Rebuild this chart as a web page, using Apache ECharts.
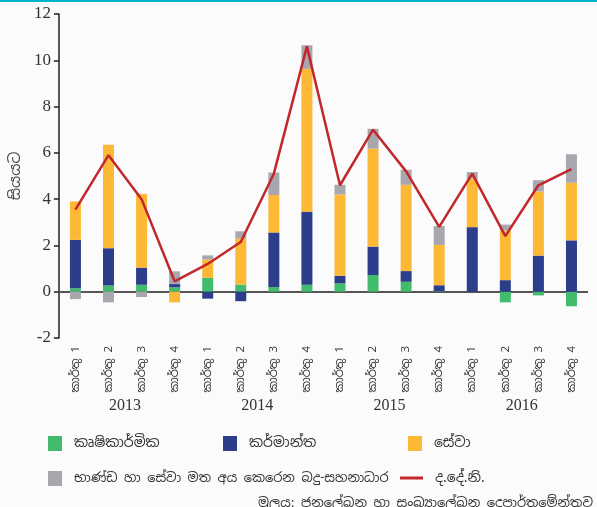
<!DOCTYPE html>
<html>
<head>
<meta charset="utf-8">
<script src="https://cdn.jsdelivr.net/npm/echarts@6/dist/echarts.min.js"></script>
<style>
  html, body { margin: 0; padding: 0; background: #fafbfa; }
  #chart { width: 597px; height: 507px; }
</style>
</head>
<body>
<div id="chart"></div>
<script>
// කාර්තු සහ වසර
const quarters = ['කාර්තු 1', 'කාර්තු 2', 'කාර්තු 3', 'කාර්තු 4',
  'කාර්තු 1', 'කාර්තු 2', 'කාර්තු 3', 'කාර්තු 4',
  'කාර්තු 1', 'කාර්තු 2', 'කාර්තු 3', 'කාර්තු 4',
  'කාර්තු 1', 'කාර්තු 2', 'කාර්තු 3', 'කාර්තු 4']
const years = ['2013', '2014', '2015', '2016']

// දායකත්වය (සියයට)
const agriculture = [0.15, 0.27, 0.30, 0.19, 0.60, 0.31, 0.20, 0.30, 0.36, 0.72, 0.43, 0.02, 0.00, -0.46, -0.16, -0.63]
const industry = [2.09, 1.61, 0.74, 0.14, -0.30, -0.41, 2.36, 3.16, 0.33, 1.23, 0.46, 0.26, 2.79, 0.50, 1.56, 2.22]
const services = [1.66, 4.47, 3.19, -0.46, 0.79, 1.99, 1.62, 6.17, 3.51, 4.23, 3.73, 1.74, 2.09, 2.14, 2.77, 2.49]
const taxes = [-0.32, -0.46, -0.23, 0.55, 0.18, 0.31, 0.97, 1.02, 0.42, 0.86, 0.65, 0.82, 0.29, 0.26, 0.49, 1.23]
const gdp = [3.55, 5.9, 4.0, 0.45, 1.2, 2.15, 5.1, 10.6, 4.6, 7.0, 5.2, 2.8, 5.1, 2.4, 4.6, 5.3]

const yTicks = { min: -2, max: 12, interval: 2 }

const names = ['කෘෂිකාර්මික', 'කර්මාන්ත', 'සේවා',
  'භාණ්ඩ හා සේවා මත අය කෙරෙන බදු-සහනාධාර', 'ද.දේ.නි.']
const colors = ['#43bb6c', '#2c3d8b', '#fdb935', '#a9a7ae', '#c1272d']

const serif = '"Liberation Serif", "DejaVu Serif", serif'
const sans = '"Noto Sans Sinhala", "Noto Sans", "DejaVu Sans", sans-serif'

const chart = echarts.init(document.getElementById('chart'))

function barSeries(i, data) {
  return {
    name: names[i],
    type: 'bar',
    stack: 'gdp',
    data: data,
    barWidth: 11,
    itemStyle: { color: colors[i] },
    emphasis: { disabled: true }
  }
}

function legendAt(i, left, top, w, h, size) {
  return {
    data: [names[i]],
    left: left,
    top: top,
    icon: 'rect',
    itemWidth: w,
    itemHeight: h,
    itemGap: 0,
    textStyle: { fontFamily: sans, fontSize: size || 14, color: '#333', padding: [0, 0, 0, 7] }
  }
}

chart.setOption({
  backgroundColor: '#fafbfa',
  animation: false,
  grid: { left: 55, right: 9, top: 14, bottom: 169 },
  legend: [
    legendAt(0, 43, 431, 14, 15),
    legendAt(1, 218, 431, 14, 15),
    legendAt(2, 403, 431, 14, 15),
    legendAt(3, 43, 466, 14, 15, 13),
    legendAt(4, 395, 466, 23, 3)
  ],
  xAxis: [{
    type: 'category',
    data: quarters,
    axisLine: { show: false },
    axisTick: { show: false },
    axisLabel: {
      rotate: 90,
      margin: 8,
      interval: 0,
      fontFamily: sans,
      fontSize: 11.5,
      color: '#333'
    }
  }, {
    type: 'category',
    data: years,
    position: 'bottom',
    offset: 52,
    axisLine: { show: false },
    axisTick: { show: false },
    axisLabel: { fontFamily: serif, fontSize: 16, color: '#333' }
  }],
  yAxis: {
    type: 'value',
    min: yTicks.min,
    max: yTicks.max,
    interval: yTicks.interval,
    name: 'සියයට',
    nameLocation: 'middle',
    nameGap: 32,
    nameRotate: 90,
    nameTextStyle: { fontFamily: sans, fontSize: 15, color: '#444' },
    axisLine: { show: true, lineStyle: { color: '#222', width: 1.5 } },
    axisTick: { show: true, length: 5, lineStyle: { color: '#222', width: 1.5 } },
    splitLine: { show: false },
    axisLabel: { fontFamily: serif, fontSize: 17, color: '#333', margin: 8 }
  },
  series: [
    barSeries(0, agriculture),
    barSeries(1, industry),
    barSeries(2, services),
    barSeries(3, taxes),
    {
      name: names[4],
      type: 'line',
      data: gdp,
      symbol: 'none',
      z: 5,
      lineStyle: { color: colors[4], width: 2.5 },
      itemStyle: { color: colors[4] },
      markLine: {
        silent: true,
        symbol: 'none',
        label: { show: false },
        lineStyle: { color: '#555', width: 2, type: 'solid' },
        data: [{ yAxis: 0 }],
        z: 1
      }
    }
  ],
  graphic: [
    { type: 'rect', left: 0, top: 0, shape: { width: 597, height: 2 }, style: { fill: '#00b7c9' } },
    {
      type: 'text', right: 4, top: 497,
      style: { text: 'මූලය: ජනලේඛන හා සංඛ්‍යාලේඛන දෙපාර්තමේන්තුව', font: '13px ' + sans, fill: '#333' }
    }
  ]
})
</script>
</body>
</html>
